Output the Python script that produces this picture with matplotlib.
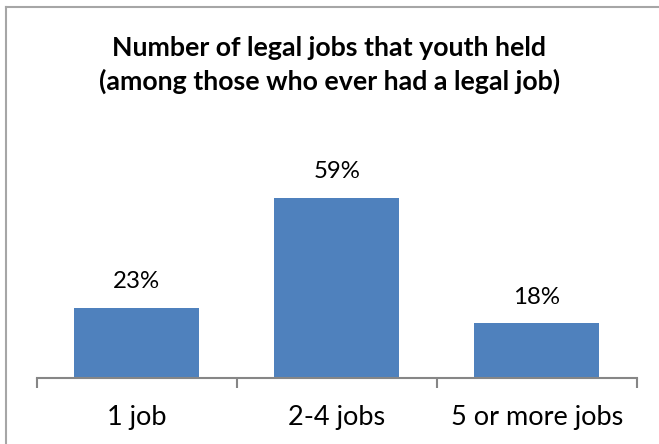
import matplotlib
matplotlib.use("Agg")
import matplotlib.pyplot as plt
from matplotlib.lines import Line2D

categories = ["1 job", "2-4 jobs", "5 or more jobs"]
shares = [23, 59, 18]
title = "Number of legal jobs that youth held\n(among those who ever had a legal job)"

plt.rcParams["font.family"] = ["Lato", "DejaVu Sans"]

W, H = 659, 444
fig = plt.figure(figsize=(W / 100, H / 100), dpi=100)
fig.patch.set_facecolor("white")

# chart frame (top and left edges visible)
frame_color = "#A6A6A6"
fig.add_artist(Line2D([6 / W, 1.0], [1 - 7 / H, 1 - 7 / H], transform=fig.transFigure,
                      color=frame_color, lw=1.5))
fig.add_artist(Line2D([6 / W, 6 / W], [0.0, 1 - 7 / H], transform=fig.transFigure,
                      color=frame_color, lw=1.5))

ax_left, ax_right = 36.7, 636.7
ax_bottom, ax_top = 378.3, 164.1
ax = fig.add_axes([ax_left / W, 1 - ax_bottom / H,
                   (ax_right - ax_left) / W, (ax_bottom - ax_top) / H])

x = range(len(categories))
bars = ax.bar(x, shares, width=0.624, color="#4F81BD", zorder=2)

ax.set_xlim(-0.5, len(categories) - 0.5)
ax.set_ylim(0, 70)

for b, v in zip(bars, shares):
    ax.annotate(f"{v}%", xy=(b.get_x() + b.get_width() / 2, b.get_height()),
                xytext=(0, 18.7), textcoords="offset points",
                ha="center", va="center", fontsize=17.3, color="black")

for side in ("left", "right", "top"):
    ax.spines[side].set_visible(False)
ax.spines["bottom"].set_color("#868686")
ax.spines["bottom"].set_linewidth(1.5)
ax.set_yticks([])

ax.set_xticks([i - 0.5 for i in range(len(categories) + 1)])
ax.set_xticklabels([])
ax.tick_params(axis="x", which="major", length=7.2, width=1.5, color="#868686")
ax.set_xticks(list(x), minor=True)
ax.set_xticklabels(categories, minor=True, fontsize=19.5)
ax.tick_params(axis="x", which="minor", length=0, pad=19)

fig.text(329.5 / W, 1 - 65 / H, title, ha="center", va="center",
         fontsize=19.3, fontweight="bold", linespacing=1.42)

fig.savefig("out.png", dpi=100, facecolor="white")
